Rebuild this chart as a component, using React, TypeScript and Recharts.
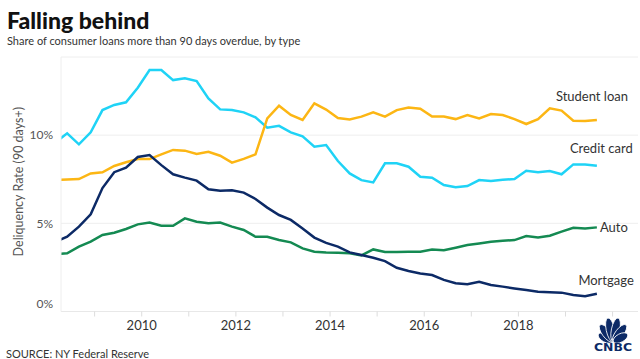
import React from 'react';
import { LineChart, Line, XAxis, YAxis, CartesianGrid, LabelList } from 'recharts';

// quarterly observations, NY Fed household debt report
const quarters = [
  '2008Q1', '2008Q2', '2008Q3', '2008Q4',
  '2009Q1', '2009Q2', '2009Q3', '2009Q4',
  '2010Q1', '2010Q2', '2010Q3', '2010Q4',
  '2011Q1', '2011Q2', '2011Q3', '2011Q4',
  '2012Q1', '2012Q2', '2012Q3', '2012Q4',
  '2013Q1', '2013Q2', '2013Q3', '2013Q4',
  '2014Q1', '2014Q2', '2014Q3', '2014Q4',
  '2015Q1', '2015Q2', '2015Q3', '2015Q4',
  '2016Q1', '2016Q2', '2016Q3', '2016Q4',
  '2017Q1', '2017Q2', '2017Q3', '2017Q4',
  '2018Q1', '2018Q2', '2018Q3', '2018Q4',
  '2019Q1', '2019Q2', '2019Q3',
];

const creditCard = [
  9.59, 10.1, 9.48, 10.16, 11.42, 11.71, 11.86, 12.69,
  13.69, 13.69, 13.12, 13.22, 13.07, 12.08, 11.46, 11.43,
  11.29, 11.01, 10.42, 10.53, 10.16, 9.93, 9.34, 9.44,
  8.53, 7.83, 7.45, 7.32, 8.4, 8.4, 8.21, 7.64,
  7.59, 7.17, 7.04, 7.11, 7.45, 7.4, 7.47, 7.51,
  7.98, 7.89, 7.97, 7.78, 8.34, 8.34, 8.27,
];

const studentLoan = [
  7.44, 7.49, 7.51, 7.83, 7.89, 8.25, 8.46, 8.64,
  8.64, 8.91, 9.16, 9.12, 8.93, 9.06, 8.83, 8.44,
  8.65, 8.91, 10.95, 11.67, 11.14, 10.86, 11.8, 11.45,
  10.97, 10.89, 11.05, 11.29, 11.05, 11.42, 11.56, 11.5,
  11.05, 11.05, 10.91, 11.14, 10.95, 11.2, 11.14, 10.91,
  10.63, 10.91, 11.52, 11.39, 10.82, 10.8, 10.86,
];

const auto = [
  3.24, 3.3, 3.68, 3.96, 4.34, 4.47, 4.68, 4.94,
  5.04, 4.86, 4.86, 5.28, 5.09, 5.0, 5.04, 4.81,
  4.62, 4.24, 4.24, 4.05, 3.92, 3.58, 3.39, 3.35,
  3.33, 3.3, 3.18, 3.52, 3.37, 3.37, 3.39, 3.39,
  3.52, 3.48, 3.62, 3.77, 3.86, 3.96, 4.01, 4.05,
  4.28, 4.19, 4.3, 4.53, 4.75, 4.71, 4.77,
];

const mortgage = [
  3.96, 4.24, 4.81, 5.51, 7.0, 7.9, 8.15, 8.76,
  8.87, 8.3, 7.78, 7.59, 7.42, 6.93, 6.85, 6.88,
  6.74, 6.38, 5.89, 5.47, 5.19, 4.71, 4.19, 3.89,
  3.68, 3.35, 3.2, 3.05, 2.86, 2.48, 2.3, 2.16,
  2.07, 1.79, 1.6, 1.54, 1.69, 1.5, 1.41, 1.31,
  1.22, 1.12, 1.09, 1.07, 0.94, 0.86, 1.01,
];

const yearTicks = [2009, 2010, 2011, 2012, 2013, 2014, 2015, 2016, 2017, 2018, 2019, 2020];
const labelledYears = [2010, 2012, 2014, 2016, 2018];
const pctTicks = [0, 5, 10];

const COLORS = {
  credit: '#1fd3f6',
  student: '#fcb614',
  auto: '#148a52',
  mortgage: '#0c2a66',
};

const FONT = 'Lato, "Open Sans", sans-serif';

// each quarter is drawn at the start of its last month
function quarterPos(q: string) {
  const year = Number(q.slice(0, 4));
  const n = Number(q.slice(5));
  return year + (3 * n - 1) / 12;
}

const data = quarters.map((q, i) => ({
  t: quarterPos(q),
  credit: creditCard[i],
  student: studentLoan[i],
  auto: auto[i],
  mortgage: mortgage[i],
}));

const XTick = (props: any) => {
  const { x, y, payload } = props;
  if (!labelledYears.includes(payload.value)) return <g />;
  return (
    <text x={x} y={y} dy="0.71em" textAnchor="middle" fontSize={13} fill="#333" fontFamily={FONT}>
      {payload.value}
    </text>
  );
};

const YTick = (props: any) => {
  const { x, y, payload } = props;
  // the 0% label sits above the baseline rule
  const shift = payload.value === 0 ? -8 : 0;
  return (
    <text x={x} y={y + shift} dy="0.35em" textAnchor="end" fontSize={12} fill="#555" fontFamily={FONT}>
      {payload.value}%
    </text>
  );
};

const endLabel = (text: string, dx: number, dy: number) => (props: any) => {
  if (props.index !== quarters.length - 1) return null;
  const vb = props.viewBox || {};
  const x = vb.x ?? props.x;
  const y = vb.y ?? props.y;
  return (
    <text x={x + dx} y={y + dy} fontSize={13} fill="#333" fontFamily={FONT}>
      {text}
    </text>
  );
};

const Logo = () => {
  const bx = 613;
  const by = 342;
  const feathers = [
    { a: -62, d: 8.5, ry: 8 },
    { a: -37, d: 11, ry: 10.5 },
    { a: -12, d: 12.5, ry: 12 },
    { a: 12, d: 12.5, ry: 12 },
    { a: 37, d: 11, ry: 10.5 },
    { a: 62, d: 8.5, ry: 8 },
  ];
  return (
    <g>
      {feathers.map((f, i) => (
        <ellipse
          key={i}
          cx={bx}
          cy={by - f.d}
          rx={4.2}
          ry={f.ry}
          fill={COLORS.mortgage}
          stroke="#fff"
          strokeWidth={0.8}
          transform={`rotate(${f.a} ${bx} ${by})`}
        />
      ))}
      <text
        x={bx}
        y={350.5}
        textAnchor="middle"
        fontSize={10}
        fontWeight={900}
        fill={COLORS.mortgage}
        fontFamily='"DejaVu Sans", sans-serif'
        textLength={38}
        lengthAdjust="spacingAndGlyphs"
      >
        CNBC
      </text>
    </g>
  );
};

export default function App() {
  return (
    <div
      style={{
        position: 'absolute',
        left: 0,
        top: 0,
        width: 640,
        height: 359,
        background: '#fff',
        overflow: 'hidden',
        fontFamily: FONT,
      }}
    >
      <LineChart width={640} height={359} data={data} margin={{ top: 57, right: 2, bottom: 0, left: 0 }}>
        <CartesianGrid vertical={false} stroke="#eeeeee" />
        <XAxis
          dataKey="t"
          type="number"
          domain={[2008.286, 2020.54]}
          allowDataOverflow
          ticks={yearTicks}
          interval={0}
          height={47.5}
          tick={<XTick />}
          tickSize={5}
          tickMargin={4}
          tickLine={{ stroke: '#dddddd' }}
          axisLine={{ stroke: '#e8e8e8' }}
        />
        <YAxis
          type="number"
          domain={[0, 14.43]}
          allowDataOverflow
          ticks={pctTicks}
          width={61}
          tick={<YTick />}
          tickLine={false}
          tickSize={0}
          tickMargin={8}
          axisLine={{ stroke: '#eeeeee' }}
        />
        <Line dataKey="credit" stroke={COLORS.credit} strokeWidth={2.5} dot={false} isAnimationActive={false}>
          <LabelList dataKey="credit" content={endLabel('Credit card', -27, -13)} />
        </Line>
        <Line dataKey="student" stroke={COLORS.student} strokeWidth={2.5} dot={false} isAnimationActive={false}>
          <LabelList dataKey="student" content={endLabel('Student loan', -41, -19)} />
        </Line>
        <Line dataKey="auto" stroke={COLORS.auto} strokeWidth={2.5} dot={false} isAnimationActive={false}>
          <LabelList dataKey="auto" content={endLabel('Auto', 3, 4.5)} />
        </Line>
        <Line dataKey="mortgage" stroke={COLORS.mortgage} strokeWidth={2.5} dot={false} isAnimationActive={false}>
          <LabelList dataKey="mortgage" content={endLabel('Mortgage', -18.5, -8.5)} />
        </Line>
      </LineChart>

      <svg width={640} height={359} style={{ position: 'absolute', left: 0, top: 0, pointerEvents: 'none' }}>
        <text x={7} y={28.5} fontSize={23} fontWeight={900} fill="#111" fontFamily={FONT}>
          Falling behind
        </text>
        <text x={7} y={44.5} fontSize={11} fill="#333" fontFamily={FONT}>
          Share of consumer loans more than 90 days overdue, by type
        </text>
        <text
          x={19}
          y={181.7}
          textAnchor="middle"
          dominantBaseline="central"
          transform="rotate(-90 19 181.7)"
          fontSize={12.5}
          fill="#555"
          fontFamily={FONT}
        >
          Deliquency Rate (90 days+)
        </text>
        <text x={6} y={357.5} fontSize={11} fill="#333" fontFamily={FONT}>
          SOURCE: NY Federal Reserve
        </text>
        <Logo />
      </svg>
    </div>
  );
}
